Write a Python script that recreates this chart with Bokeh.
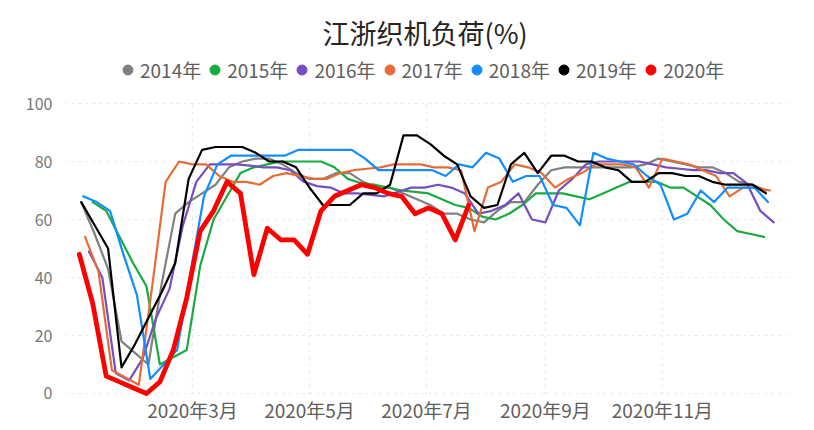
import numpy as np
from bokeh.plotting import figure
from bokeh.models import FixedTicker, Legend, LegendItem, Range1d, Title
from bokeh.embed import file_html
from bokeh.resources import INLINE

# ---------------- data ----------------
title_text = "江浙织机负荷(%)"
series_names = ["2014年", "2015年", "2016年", "2017年", "2018年", "2019年", "2020年"]
series_colors = ["#808080", "#1AAB40", "#744EC2", "#E66C37", "#118DFF", "#000000", "#FF0000"]
series_widths = [2.2, 2.2, 2.2, 2.2, 2.2, 2.2, 4.8]
# first weekly observation of each year, mapped onto the 2020 calendar
start_dates = ["2020-01-03", "2020-01-09", "2020-01-07", "2020-01-05", "2020-01-04", "2020-01-03", "2020-01-02"]

v2014 = [66, 55, 43, 18, 14, 10, 38, 62, 66, 69, 72, 78, 80, 81, 81, 79, 76, 74, 74, 76,
         76, 73, 71, 71, 69, 67, 65, 62, 62, 60, 59, 63, 66, 66, 72, 77, 78, 78, 78, 78,
         78, 78, 79, 81, 80, 79, 78, 78, 76, 73, 72, 70]
v2015 = [66, 63, 54, 45, 37, 10, 12.5, 15, 44, 60, 68, 76, 78, 79, 80, 80, 80, 80, 78, 74,
         72.5, 72, 71, 70, 69.5, 69, 67, 65, 64, 61, 60, 62, 65, 69, 69, 69, 68, 67, 69, 71,
         73, 73, 73, 71, 71, 68, 65, 60, 56, 55, 54]
v2016 = [49, 40, 7, 4.5, 12, 26, 36, 58, 73, 79, 79, 79, 78.6, 78, 78, 77, 73, 71.5, 71, 69,
         69, 68.5, 68, 69.5, 71, 71, 72, 71, 69, 62, 63, 65, 69, 60, 59, 70, 74, 79, 80, 80,
         80, 80, 79, 78, 77.5, 77, 77, 76, 76, 72.5, 63, 59]
v2017 = [54, 42, 8, 5.5, 3, 37, 73, 80, 79, 79, 75, 73, 73, 72, 75, 76, 75, 74, 74, 76,
         77, 77.5, 78, 79, 79, 79, 78, 78, 77, 56, 71, 73, 79, 78, 76, 71, 74, 76, 79, 79,
         79, 78, 71, 81, 80, 79, 77, 75, 68, 71, 71, 70]
v2018 = [68, 66, 63, 48, 34, 5, 10, 15, 42, 68, 79, 82, 82, 82, 82, 82, 84, 84, 84, 84,
         84, 81, 77, 77, 77, 77, 77, 75, 79, 78, 83, 81, 73, 75, 75, 65, 64, 58, 83, 81,
         80, 79, 75, 72, 60, 62, 70, 66, 71, 71, 71, 66]
v2019 = [66, 58, 50, 9, 17, 26, 35, 45, 74, 84, 85, 85, 85, 83, 80, 80, 78, 71, 65, 65,
         65, 69, 69, 72, 89, 89, 86, 82, 79, 68, 64, 65, 79, 83, 76, 82, 82, 80, 80, 78,
         77, 73, 73, 76, 76, 75, 75, 73, 72, 72, 72, 69]
v2020 = [48, 31, 6, 4, 2, 0, 4, 15, 33, 56, 63, 73, 69, 41, 57, 53, 53, 48, 63, 68,
         70, 72, 71, 69, 68, 62, 64, 62, 53, 65]
series_values = [v2014, v2015, v2016, v2017, v2018, v2019, v2020]

tick_dates = ["2020-03-01", "2020-05-01", "2020-07-01", "2020-09-01", "2020-11-01"]
tick_labels = ["2020年3月", "2020年5月", "2020年7月", "2020年9月", "2020年11月"]
y_ticks = [0, 20, 40, 60, 80, 100]
x_start, x_end = "2019-12-25T19:00", "2021-01-05T05:00"
y_start, y_end = -1.38, 117.59   # headroom above 100 holds the legend


def to_ms(d):
    return (np.datetime64(d, "ms") - np.datetime64("1970-01-01", "ms")).astype("int64").astype(float)


FONT = "Noto Sans CJK SC"

p = figure(width=814, height=430, output_backend="svg", toolbar_location=None,
           x_range=Range1d(to_ms(x_start), to_ms(x_end)), y_range=Range1d(y_start, y_end),
           min_border_left=65, min_border_right=27, min_border_top=52, min_border_bottom=33)
p.outline_line_color = None
p.background_fill_color = "white"
p.border_fill_color = "white"

tick_ms = [to_ms(d) for d in tick_dates]
p.xaxis.ticker = FixedTicker(ticks=tick_ms)
p.xaxis.major_label_overrides = {t: lab for t, lab in zip(tick_ms, tick_labels)}
p.yaxis.ticker = FixedTicker(ticks=y_ticks)
for ax in (p.xaxis[0], p.yaxis[0]):
    ax.axis_line_color = None
    ax.major_tick_line_color = None
    ax.minor_tick_line_color = None
    ax.major_tick_in = 0
    ax.major_tick_out = 0
    ax.major_label_text_font = FONT
    ax.major_label_text_color = "#605E5C"
p.xaxis.major_label_text_font_size = "19px"
p.xaxis.major_label_standoff = -2
p.yaxis.major_label_text_font_size = "16px"
p.yaxis.major_label_standoff = 13
p.yaxis.major_label_text_color = "#777777"

p.xgrid.visible = False
p.ygrid.grid_line_color = "#C8C8C8"
p.ygrid.grid_line_dash = "1 6"
p.ygrid.grid_line_width = 1.2
# vertical dotted grid lines at the month ticks, spanning the 0-100 band
p.segment(x0=tick_ms, y0=[y_ticks[0]] * len(tick_ms), x1=tick_ms, y1=[y_ticks[-1]] * len(tick_ms),
          line_color="#C8C8C8", line_dash="1 6", line_width=1.2)

items = []
for name, color, width, start, vals in zip(series_names, series_colors, series_widths,
                                           start_dates, series_values):
    xs = to_ms(start) + np.arange(len(vals)) * 7 * 86400000.0
    p.line(xs, vals, line_color=color, line_width=width, line_join="round", line_cap="round")
    dot = p.scatter([np.nan], [np.nan], marker="circle", size=11, fill_color=color, line_color=color)
    items.append(LegendItem(label=name, renderers=[dot]))

legend = Legend(items=items, orientation="horizontal", location=(50, 314),
                label_text_font=FONT, label_text_font_size="19px", label_text_color="#605E5C",
                glyph_width=25, glyph_height=25, label_standoff=0, spacing=1,
                border_line_color=None, background_fill_alpha=0, padding=0, margin=0)
p.add_layout(legend, "center")
p.add_layout(Title(text=title_text, align="left", offset=257, text_font=FONT, text_font_size="27px",
                   text_font_style="normal", text_color="#252423", standoff=2), "above")

open("out.html", "w").write(file_html(p, INLINE))
